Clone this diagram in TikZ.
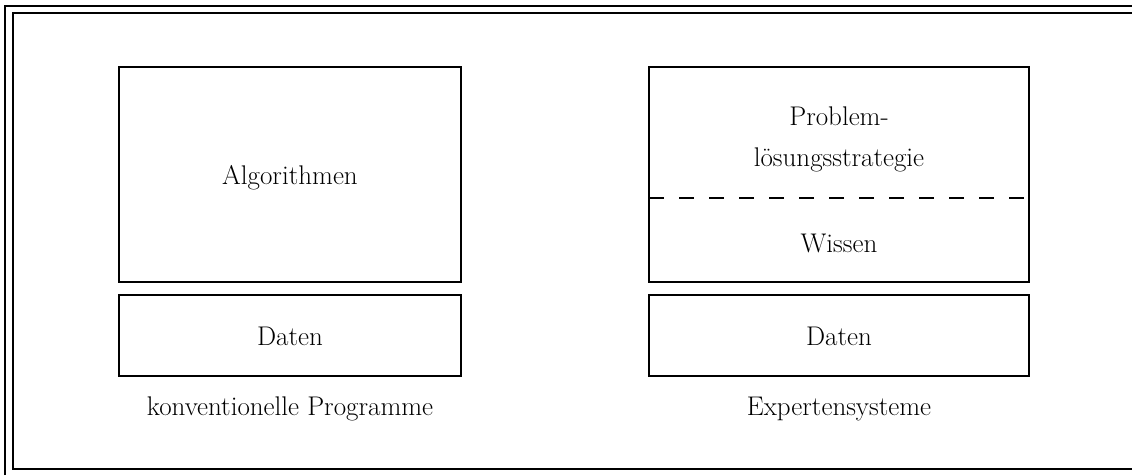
\documentclass[tikz,border=0pt]{standalone}
\usepackage{fontspec}
\begin{document}
\begin{tikzpicture}[x=1pt,y=-1pt,
  frame/.style={line width=2.2pt},
  block/.style={draw,line width=2.2pt,inner sep=0pt},
  lbl/.style={font=\fontsize{27}{41}\selectfont,align=center,inner sep=0pt}]
\useasboundingbox (0,0) rectangle (1132,475);
% double frame around the figure
\draw[frame] (5,475) -- (5,6) -- (1132,6);
\draw[frame] (1132,13) -- (13,13) -- (13,469) -- (1132,469);
% conventional programs
\draw[block] (119,67) rectangle (461,282);
\draw[block] (119,295) rectangle (461,376);
\node[lbl] (alg) at (290,178) {Algorithmen};
\node[lbl] (dl) at (290,336) {Daten};
\node[lbl] (kp) at (290,409) {konventionelle Programme};
% expert systems
\draw[block] (649,67) rectangle (1029,282);
\draw[block] (649,295) rectangle (1029,376);
\draw[line width=1.8pt,dash pattern=on 15pt off 15pt] (649,198) -- (1029,198);
\node[lbl] (pl) at (839,139) {Problem-\\lösungsstrategie};
\node[lbl] (wi) at (839,243) {Wissen};
\node[lbl] (dr) at (839,336) {Daten};
\node[lbl] (es) at (839,409) {Expertensysteme};
\end{tikzpicture}
\end{document}
